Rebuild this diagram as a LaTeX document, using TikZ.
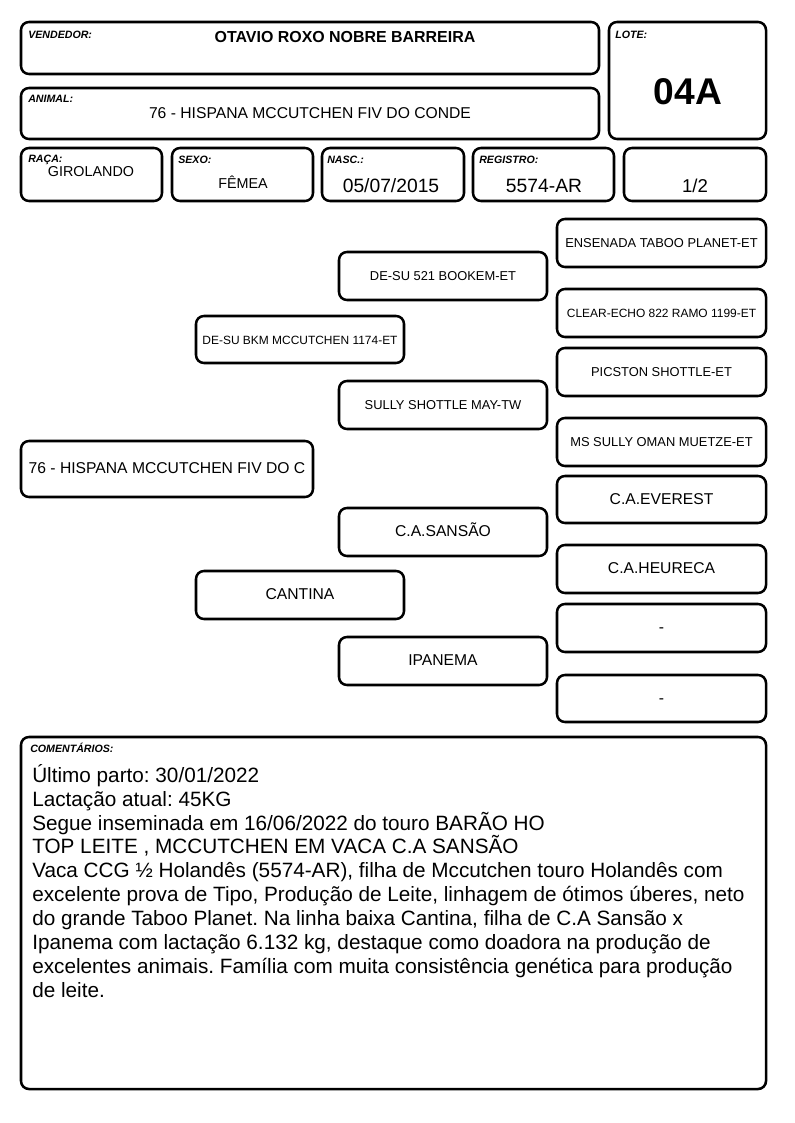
\documentclass[tikz,border=0pt]{standalone}
\usepackage{fontspec}
\setmainfont{Liberation Sans}
\frenchspacing
\newcommand{\fs}[1]{\fontsize{#1}{#1}\selectfont}
\tikzset{
  box/.style={draw, line width=1.9pt, rounded corners=6pt, inner sep=0pt, text height=.72em, text depth=0pt},
  bb/.style n args={4}{minimum width={(#3-#1)*0.75bp}, minimum height={(#4-#2)*0.75bp}, at={({(#1+#3)/2},{(#2+#4)/2})}},
  lab/.style={font=\fs{8}\bfseries\itshape, anchor=base west, inner sep=0pt},
  val/.style={anchor=base, inner sep=0pt},
  sm/.style={font=\fs{9}},
  md/.style={font=\fs{9.7}},
  lg/.style={font=\fs{11.8}},
}
\begin{document}
\begin{tikzpicture}[x=0.75bp,y=-0.75bp]
\useasboundingbox (0,0) rectangle (794,1123);
% header
\node[box, bb={21}{22}{599}{74}] (vend) {};
\node[box, bb={609}{22}{766}{139}] (lote) {};
\node[box, bb={21}{88}{599}{139}] (anim) {};
\node[box, bb={21}{148}{162}{201}] (raca) {};
\node[box, bb={172}{148}{313}{201}] (sexo) {};
\node[box, bb={322}{148}{464}{201}] (nasc) {};
\node[box, bb={473}{148}{614}{201}] (reg) {};
\node[box, bb={624}{148}{766}{201}] (frac) {};
\node[lab] (lvend) at (28,39) {VENDEDOR:};
\node[lab] (llote) at (615,39) {LOTE:};
\node[lab] (lanim) at (28,103) {ANIMAL:};
\node[lab] (lraca) at (28,163) {RAÇA:};
\node[lab] (lsexo) at (178,164) {SEXO:};
\node[lab] (lnasc) at (327,164) {NASC.:};
\node[lab] (lreg) at (479,164) {REGISTRO:};
\node[val, font=\fs{12}\bfseries] (tvend) at (345,43) {OTAVIO ROXO NOBRE BARREIRA};
\node[val, font=\fs{28}\bfseries] (tlote) at (688,105) {04A};
\node[val, font=\fs{11.8}] (tanim) at (310,119) {76 - HISPANA MCCUTCHEN FIV DO CONDE};
\node[val, font=\fs{10.8}] (traca) at (91,177) {GIROLANDO};
\node[val, font=\fs{10.8}] (tsexo) at (243,189) {FÊMEA};
\node[val, font=\fs{14.5}] (tnasc) at (391,193) {05/07/2015};
\node[val, font=\fs{14.5}] (treg) at (544,193) {5574-AR};
\node[val, font=\fs{14}] (tfrac) at (695,193) {1/2};
% pedigree
\node[box, lg, bb={21}{441}{313}{497}] (p0) {76 - HISPANA MCCUTCHEN FIV DO C};
\node[box, sm, bb={196}{316}{404}{363}] (s) {DE-SU BKM MCCUTCHEN 1174-ET};
\node[box, md, bb={339}{252}{547}{300}] (ss) {DE-SU 521 BOOKEM-ET};
\node[box, md, bb={339}{381}{547}{429}] (sd) {SULLY SHOTTLE MAY-TW};
\node[box, md, bb={557}{219}{766}{267}] (sss) {ENSENADA TABOO PLANET-ET};
\node[box, sm, bb={557}{289}{766}{337}] (ssd) {CLEAR-ECHO 822 RAMO 1199-ET};
\node[box, md, bb={557}{348}{766}{396}] (sds) {PICSTON SHOTTLE-ET};
\node[box, md, bb={557}{418}{766}{466}] (sdd) {MS SULLY OMAN MUETZE-ET};
\node[box, lg, bb={196}{571}{404}{619}] (d) {CANTINA};
\node[box, lg, bb={339}{508}{547}{556}] (ds) {C.A.SANSÃO};
\node[box, lg, bb={339}{637}{547}{685}] (dd) {IPANEMA};
\node[box, lg, bb={557}{476}{766}{523}] (dss) {C.A.EVEREST};
\node[box, lg, bb={557}{545}{766}{593}] (dsd) {C.A.HEURECA};
\node[box, lg, bb={557}{604}{766}{652}] (dds) {-};
\node[box, lg, bb={557}{675}{766}{722}] (ddd) {-};
% comments
\node[box, bb={21}{737}{766}{1089}] (com) {};
\node[lab] (lcom) at (30,752) {COMENTÁRIOS:};
\node[anchor=north west, inner sep=0pt, align=left, font=\fontsize{15.6}{18}\selectfont] (tcom) at (32,764) {Último parto: 30/01/2022\\
Lactação atual: 45KG\\
Segue inseminada em 16/06/2022 do touro BARÃO HO\\
TOP LEITE , MCCUTCHEN EM VACA C.A SANSÃO\\
Vaca CCG ½ Holandês (5574-AR), filha de Mccutchen touro Holandês com\\
excelente prova de Tipo, Produção de Leite, linhagem de ótimos úberes, neto\\
do grande Taboo Planet. Na linha baixa Cantina, filha de C.A Sansão x\\
Ipanema com lactação 6.132 kg, destaque como doadora na produção de\\
excelentes animais. Família com muita consistência genética para produção\\
de leite.};
\end{tikzpicture}
\end{document}
